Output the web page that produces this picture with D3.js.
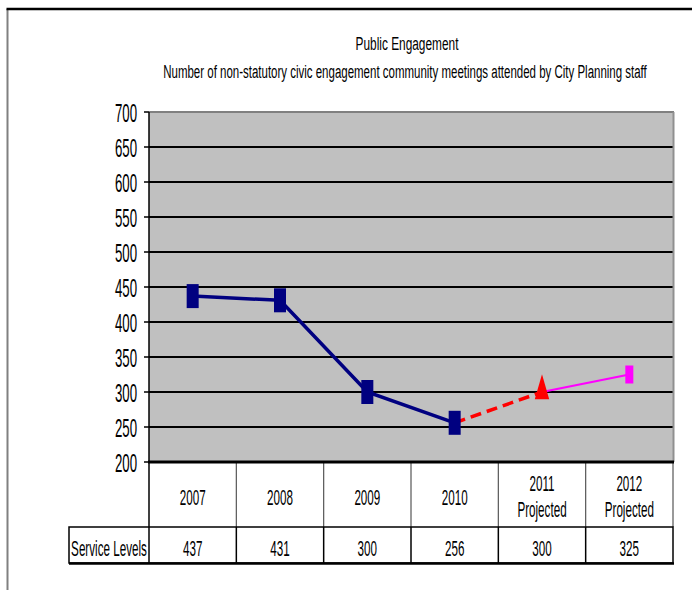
<!DOCTYPE html>
<html>
<head>
<meta charset="utf-8">
<title>Public Engagement</title>
<script src="https://d3js.org/d3.v7.min.js"></script>
<style>
  body { margin: 0; background: #fff; }
  text { font-family: "Liberation Sans", Arial, sans-serif; fill: #000; }
</style>
</head>
<body>
<svg width="692" height="590"></svg>
<script>
// data
var years = ["2007", "2008", "2009", "2010", "2011", "2012"];
var yearSub = ["", "", "", "", "Projected", "Projected"];
var serviceLevels = [437, 431, 300, 256, 300, 325];
var yTicks = [200, 250, 300, 350, 400, 450, 500, 550, 600, 650, 700];
var actualYears = ["2007", "2008", "2009", "2010"];
var proj2011 = ["2010", "2011"];
var proj2012 = ["2011", "2012"];

var svg = d3.select("svg");
var sx = 0.53; // the original font is squeezed horizontally

var x = d3.scaleBand().domain(years).range([149, 673]);
var y = d3.scaleLinear().domain([200, 700]).range([462, 112]);
var val = {};
years.forEach(function(d, i) { val[d] = serviceLevels[i]; });
var cx = function(d) { return x(d) + x.bandwidth() / 2; };

function squish(sel, tx, ty) {
  sel.attr("transform", function(d, i) {
    return "translate(" + tx(d, i) + "," + ty(d, i) + ") scale(" + sx + ",1)";
  });
}

// squeeze a centred text into a given width
function fitText(t, cxx, cy, w) {
  var len = t.node().getComputedTextLength();
  t.attr("transform", "translate(" + cxx + "," + cy + ") scale(" + (w / len) + ",1)");
}

// outer frame
svg.append("line").attr("x1", 7.5).attr("x2", 7.5).attr("y1", 9).attr("y2", 590)
    .attr("stroke", "#808080").attr("stroke-width", 2);
svg.append("line").attr("x1", 6.5).attr("x2", 692).attr("y1", 9).attr("y2", 9)
    .attr("stroke", "#000").attr("stroke-width", 2.5);

// titles
var t1 = svg.append("text").attr("text-anchor", "middle").attr("font-size", 19)
    .text("Public Engagement");
fitText(t1, 407, 50, 103);
var t2 = svg.append("text").attr("text-anchor", "middle").attr("font-size", 19)
    .text("Number of non-statutory civic engagement community meetings attended by City Planning staff");
fitText(t2, 405, 78, 484);

// plot area
svg.append("rect").attr("x", 149).attr("y", y(700)).attr("width", 524).attr("height", y(200) - y(700))
    .attr("fill", "#c0c0c0");

svg.append("g").selectAll("line")
  .data(yTicks.filter(function(d) { return d > 200 && d < 700; }))
  .enter().append("line")
    .attr("x1", 149).attr("x2", 673)
    .attr("y1", function(d) { return y(d); }).attr("y2", function(d) { return y(d); })
    .attr("stroke", "#000").attr("stroke-width", 2);

svg.append("line").attr("x1", 149).attr("x2", 674).attr("y1", y(700)).attr("y2", y(700))
    .attr("stroke", "#808080").attr("stroke-width", 2);
svg.append("line").attr("x1", 673.5).attr("x2", 673.5).attr("y1", y(700)).attr("y2", y(200))
    .attr("stroke", "#909090").attr("stroke-width", 2);

// y axis
svg.append("g").selectAll("line")
  .data(yTicks).enter().append("line")
    .attr("x1", 144).attr("x2", 149)
    .attr("y1", function(d) { return y(d); }).attr("y2", function(d) { return y(d); })
    .attr("stroke", "#000").attr("stroke-width", 1.5);
svg.append("g").selectAll("text")
  .data(yTicks).enter().append("text")
    .attr("text-anchor", "end").attr("font-size", 25)
    .text(function(d) { return d; })
    .call(squish, function() { return 137; }, function(d) { return y(d) + 10; });

// header row of the table
svg.append("line").attr("x1", 149).attr("x2", 149).attr("y1", y(700)).attr("y2", 527)
    .attr("stroke", "#000").attr("stroke-width", 1.5);
svg.append("g").selectAll("line")
  .data(years).enter().append("line")
    .attr("x1", function(d) { return x(d) + x.bandwidth(); })
    .attr("x2", function(d) { return x(d) + x.bandwidth(); })
    .attr("y1", 462).attr("y2", 527)
    .attr("stroke", "#555").attr("stroke-width", 1.2);
svg.append("line").attr("x1", 148).attr("x2", 674).attr("y1", 462).attr("y2", 462)
    .attr("stroke", "#000").attr("stroke-width", 3);

var head = svg.append("g").selectAll("g").data(years).enter().append("g");
head.append("text").attr("text-anchor", "middle").attr("font-size", 22)
    .text(function(d) { return d; })
    .call(squish, cx, function(d, i) { return yearSub[i] ? 491 : 505; });
head.append("text").attr("text-anchor", "middle").attr("font-size", 22)
    .text(function(d, i) { return yearSub[i]; })
    .call(squish, cx, function() { return 517; });

// data row
svg.append("rect").attr("x", 69).attr("y", 527).attr("width", 604).attr("height", 36)
    .attr("fill", "none").attr("stroke", "#000").attr("stroke-width", 1.5);
svg.append("line").attr("x1", 69).attr("x2", 674).attr("y1", 563.5).attr("y2", 563.5)
    .attr("stroke", "#000").attr("stroke-width", 2.5);
svg.append("g").selectAll("line")
  .data(years).enter().append("line")
    .attr("x1", function(d) { return x(d); }).attr("x2", function(d) { return x(d); })
    .attr("y1", 527).attr("y2", 563)
    .attr("stroke", "#000").attr("stroke-width", 1.5);
svg.append("text").attr("text-anchor", "middle").attr("font-size", 22)
    .text("Service Levels")
    .call(squish, function() { return 109; }, function() { return 556; });
svg.append("g").selectAll("text")
  .data(years).enter().append("text")
    .attr("text-anchor", "middle").attr("font-size", 22)
    .text(function(d) { return val[d]; })
    .call(squish, cx, function() { return 556; });

// lines
var line = d3.line().x(cx).y(function(d) { return y(val[d]); });

svg.append("path").datum(actualYears).attr("d", line)
    .attr("fill", "none").attr("stroke", "#000080").attr("stroke-width", 3.5);
svg.append("path").datum(proj2011).attr("d", line)
    .attr("fill", "none").attr("stroke", "#ff0000").attr("stroke-width", 3.5)
    .attr("stroke-dasharray", "11,6");
svg.append("path").datum(proj2012).attr("d", line)
    .attr("fill", "none").attr("stroke", "#ff00ff").attr("stroke-width", 2);

// markers
svg.append("g").selectAll("rect")
  .data(actualYears).enter().append("rect")
    .attr("x", function(d) { return cx(d) - 6; })
    .attr("y", function(d) { return y(val[d]) - 12; })
    .attr("width", 12).attr("height", 24)
    .attr("fill", "#000080");
svg.append("path")
    .attr("d", d3.symbol().type(d3.symbolTriangle).size(160)())
    .attr("transform", "translate(" + cx("2011") + "," + (y(val["2011"]) - 1) + ") scale(0.75,1.5)")
    .attr("fill", "#ff0000");
svg.append("rect")
    .attr("x", cx("2012") - 4).attr("y", y(val["2012"]) - 9)
    .attr("width", 8).attr("height", 18)
    .attr("fill", "#ff00ff");
</script>
</body>
</html>
